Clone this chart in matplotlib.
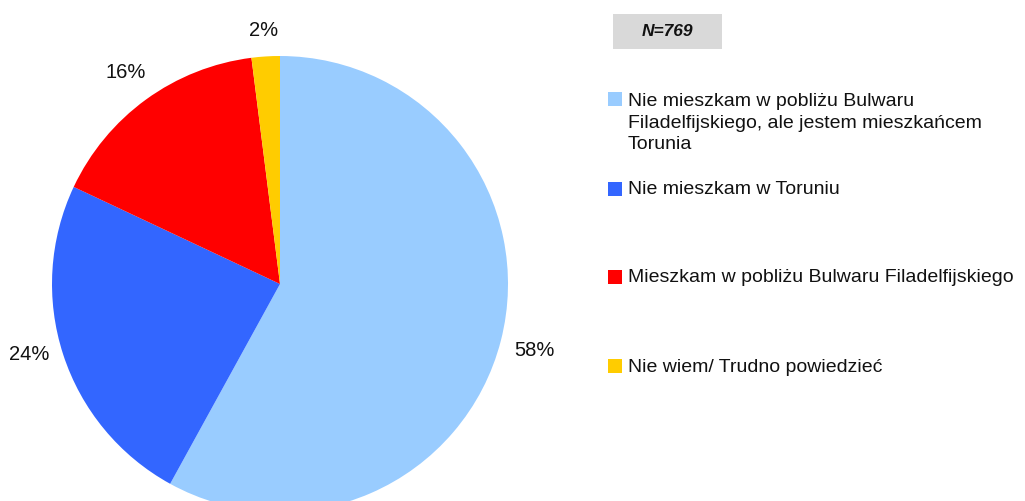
import numpy as np
import matplotlib.pyplot as plt
from matplotlib.patches import Rectangle

labels = ["Nie mieszkam w pobliżu Bulwaru\nFiladelfijskiego, ale jestem mieszkańcem\nTorunia",
          "Nie mieszkam w Toruniu",
          "Mieszkam w pobliżu Bulwaru Filadelfijskiego",
          "Nie wiem/ Trudno powiedzieć"]
values = [58, 24, 16, 2]
colors = ["#99CCFF", "#3366FF", "#FF0000", "#FFCC00"]
pct_text = ["58%", "24%", "16%", "2%"]
n_label = "N=769"

plt.rcParams['font.family'] = ['Liberation Sans', 'DejaVu Sans']

W, H = 1025, 502
fig = plt.figure(figsize=(W / 100, H / 100), dpi=100)
ax = fig.add_axes([0, 0, 1, 1])

cx, cy, r = 280, H - 285, 228
wedges, _ = ax.pie(values, colors=colors, startangle=90, counterclock=False,
                   center=(cx, cy), radius=r, frame=True,
                   wedgeprops=dict(linewidth=0))
ax.set_xlim(0, W)
ax.set_ylim(0, H)
ax.axis('off')

# percentage labels outside the slices
dist = [1.15, 1.14, 1.15, 1.12]
shift = [0, -2.5, 0, 0]
for w, t, d, s in zip(wedges, pct_text, dist, shift):
    ang = np.deg2rad((w.theta1 + w.theta2) / 2 + s)
    ax.text(cx + d * r * np.cos(ang), cy + d * r * np.sin(ang), t,
            ha='center', va='center', fontsize=14.5, color='#111111')

# N box
ax.add_patch(Rectangle((613, H - 50), 109, 35, facecolor='#D9D9D9', edgecolor='none'))
ax.text(667, H - 32, n_label, ha='center', va='center', fontsize=12.5,
        fontweight='bold', fontstyle='italic', color='#111111')

# legend
leg_y = [100, 190, 278, 367]
for lab, c, y in zip(labels, colors, leg_y):
    ax.add_patch(Rectangle((608, H - y - 7), 14, 14, facecolor=c, edgecolor='none'))
    n = lab.count('\n')
    ax.text(628, H - y - n * 11.5, lab, ha='left', va='center',
            fontsize=14, color='#111111', linespacing=1.38)

fig.savefig('out.png', dpi=100)
